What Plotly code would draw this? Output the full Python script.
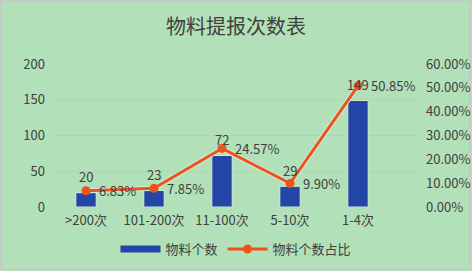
import plotly.graph_objects as go

categories = [">200次", "101-200次", "11-100次", "5-10次", "1-4次"]
counts = [20, 23, 72, 29, 149]
shares = [0.0683, 0.0785, 0.2457, 0.0990, 0.5085]
share_labels = ["6.83%", "7.85%", "24.57%", "9.90%", "50.85%"]
left_ticks = [0, 50, 100, 150, 200]
right_ticks = [0, 0.1, 0.2, 0.3, 0.4, 0.5, 0.6]

W, H = 472, 271
ml, mr, mt, mb = 52, 55, 64, 64
pw, ph = W - ml - mr, H - mt - mb

font_fam = "Noto Sans CJK SC, Noto Sans, DejaVu Sans, sans-serif"
txt_col = "#404040"
bar_col = "#2446A6"
line_col = "#F0521C"
bg = "#B2E0B8"

fig = go.Figure()
fig.add_trace(go.Bar(
    x=categories, y=counts, name="物料个数", showlegend=False,
    marker=dict(color=bar_col, line=dict(color="#D8EFD0", width=1)),
    width=0.3,
))
# legend entry for the bars (wide rectangle swatch)
fig.add_trace(go.Scatter(
    x=[None], y=[None], name="物料个数", mode="lines",
    line=dict(color=bar_col, width=7), hoverinfo="skip",
))
fig.add_trace(go.Scatter(
    x=categories, y=shares, yaxis="y2", mode="lines",
    line=dict(color="#C8F0E0", width=5), showlegend=False, hoverinfo="skip",
))
fig.add_trace(go.Scatter(
    x=categories, y=shares, yaxis="y2", name="物料个数占比",
    mode="lines+markers",
    line=dict(color=line_col, width=3),
    marker=dict(color=line_col, size=9),
))

# data labels
for c, v in zip(categories, counts):
    fig.add_annotation(x=c, y=v, xref="x", yref="y", text=str(v), showarrow=False,
                       yshift=16, yanchor="middle", xanchor="center",
                       font=dict(size=13, color=txt_col))
for c, s, lab in zip(categories, shares, share_labels):
    fig.add_annotation(x=c, y=s, xref="x", yref="y2", text=lab, showarrow=False,
                       xshift=11, xanchor="left", yanchor="middle",
                       font=dict(size=13, color=txt_col))

fig.update_layout(
    width=W, height=H,
    margin=dict(l=ml, r=mr, t=mt, b=mb, autoexpand=False),
    paper_bgcolor=bg, plot_bgcolor=bg,
    font=dict(family=font_fam, color=txt_col, size=13),
    title=dict(text="物料提报次数表", x=0.5, xanchor="center", y=1 - 27 / H, yanchor="middle",
               font=dict(size=20, color="#404040", family=font_fam)),
    xaxis=dict(type="category", showgrid=False, zeroline=False, showline=False, automargin=False,
               ticks="", tickfont=dict(size=13, color=txt_col), ticklabelstandoff=4),
    yaxis=dict(range=[0, 200], tickvals=left_ticks, showgrid=True, gridcolor="#C2C8C2",
               gridwidth=1, zeroline=False, showline=False, ticks="", automargin=False,
               tickfont=dict(size=13, color=txt_col), ticklabelstandoff=6),
    yaxis2=dict(range=[0, 0.6], tickvals=right_ticks, tickformat=".2%", overlaying="y",
                side="right", showgrid=False, zeroline=False, showline=False, ticks="", automargin=False,
                tickfont=dict(size=13, color=txt_col), ticklabelstandoff=8),
    legend=dict(orientation="h", x=0.5, xanchor="center", xref="container",
                y=1 - 249 / H, yanchor="middle", yref="container",
                font=dict(size=13, color=txt_col), bgcolor="rgba(0,0,0,0)",
                itemwidth=40, traceorder="normal"),
    showlegend=True,
    bargap=0.7,
)
fig.add_shape(type="rect", xref="paper", yref="paper",
              x0=-(ml - 1) / pw, x1=1 + (mr - 2) / pw,
              y0=-(mb - 2) / ph, y1=1 + (mt - 1) / ph,
              line=dict(color="#C8C8C8", width=2), fillcolor="rgba(0,0,0,0)", layer="below")

fig.write_html("out.html", config={"displayModeBar": False},
               post_script="document.body.style.margin='0';document.body.style.overflow='hidden';")
